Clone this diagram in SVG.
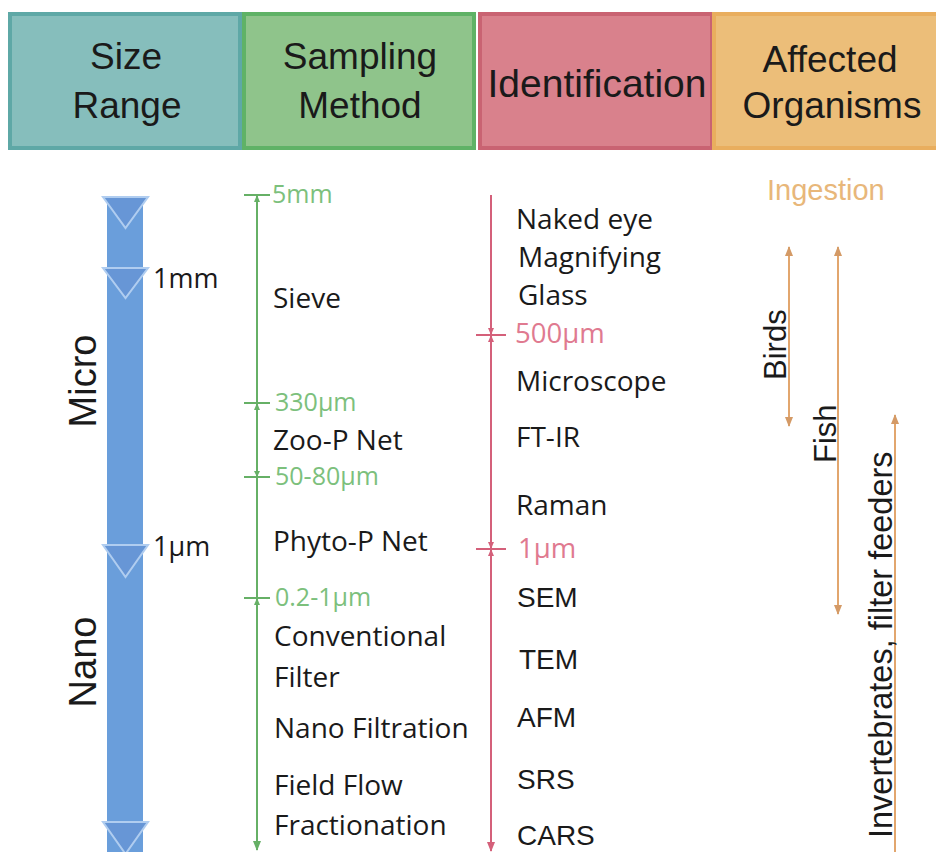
<svg xmlns="http://www.w3.org/2000/svg" width="936" height="852" viewBox="0 0 936 852">
<defs>
<style>
.hdr{font-family:"Liberation Sans",Arial,sans-serif;font-size:37px;fill:#1a1a1a;text-anchor:middle}
.lbl{font-family:"Open Sans",sans-serif;font-size:28px;fill:#1a1a1a}
.arl{font-family:"Liberation Sans",Arial,sans-serif;font-size:28px;fill:#1a1a1a}
.gtx{font-family:"Open Sans",sans-serif;font-size:25px;fill:#7cc07c}
.rtx{font-family:"Open Sans",sans-serif;font-size:27.5px;fill:#e07a90}
.org{font-family:"Liberation Sans",Arial,sans-serif;font-size:31px;fill:#1a1a1a}
.side{font-family:"Liberation Sans",Arial,sans-serif;font-size:38px;fill:#1a1a1a;text-anchor:middle}
.gl{stroke:#66b066;stroke-width:2;fill:none}
.rl{stroke:#d4607a;stroke-width:2;fill:none}
.ol{stroke:#e2a66e;stroke-width:2;fill:none}
.chev{fill:#6796d6;stroke:#b0cdf0;stroke-width:2}
</style>
<marker id="ag" viewBox="0 0 10 10" refX="9" refY="5" markerWidth="5" markerHeight="5" orient="auto-start-reverse"><path d="M0,1 L10,5 L0,9 z" fill="#66b066"/></marker>
<marker id="ar" viewBox="0 0 10 10" refX="9" refY="5" markerWidth="5" markerHeight="5" orient="auto-start-reverse"><path d="M0,1 L10,5 L0,9 z" fill="#d4607a"/></marker>
<marker id="ao" viewBox="0 0 10 10" refX="9" refY="5" markerWidth="5" markerHeight="5" orient="auto-start-reverse"><path d="M0,1 L10,5 L0,9 z" fill="#d49a66"/></marker>
</defs>
<rect width="936" height="852" fill="#ffffff"/>

<g id="hdr-size">
<rect x="10" y="14" width="230" height="134" fill="#86bebc" stroke="#5ea8a6" stroke-width="4"/>
<text class="hdr" x="126" y="69">Size</text>
<text class="hdr" x="127" y="118">Range</text>
</g>
<g id="hdr-sampling">
<rect x="244" y="14" width="230" height="134" fill="#8fc48b" stroke="#5fb266" stroke-width="4"/>
<text class="hdr" x="360" y="69">Sampling</text>
<text class="hdr" x="360" y="118">Method</text>
</g>
<g id="hdr-ident">
<rect x="480" y="14" width="232" height="134" fill="#d9818c" stroke="#c96372" stroke-width="4"/>
<text class="hdr" x="597" y="97" style="font-size:39px">Identification</text>
</g>
<g id="hdr-affected">
<rect x="714" y="14" width="226" height="134" fill="#ecbe79" stroke="#e9ae5e" stroke-width="4"/>
<text class="hdr" x="830" y="72">Affected</text>
<text class="hdr" x="832" y="118">Organisms</text>
</g>

<g id="size-range">
<rect x="107" y="197" width="36" height="655" fill="#6a9edb"/>
<polygon class="chev" points="103,197 148,197 125.5,228"/>
<polygon class="chev" points="103,268 148,268 125.5,298"/>
<polygon class="chev" points="103,545 148,545 125.5,577"/>
<polygon class="chev" points="103,822 148,822 125.5,854"/>
<text class="lbl" x="153" y="288" style="font-size:27px">1mm</text>
<text class="lbl" x="153" y="556" style="font-size:27px">1µm</text>
<text class="side" transform="translate(96,381) rotate(-90)">Micro</text>
<text class="side" transform="translate(96,662) rotate(-90)">Nano</text>
</g>

<g id="connectors">
<line class="gl" x1="257" y1="195" x2="257" y2="850" marker-end="url(#ag)"/>
<g class="gl">
<line x1="244" y1="195" x2="270" y2="195"/>
<line x1="244" y1="403" x2="270" y2="403"/>
<line x1="244" y1="477" x2="270" y2="477"/>
<line x1="244" y1="598" x2="270" y2="598"/>
</g>
<g fill="#66b066">
<path d="M257,195 l-3,7 h6 z"/>
<path d="M257,403 l-3,7 h6 z"/>
<path d="M257,477 l-3,-6 h6 z"/>
<path d="M257,598 l-3,7 h6 z"/>
</g>
<line class="rl" x1="491" y1="195" x2="491" y2="851" marker-end="url(#ar)"/>
<g class="rl">
<line x1="476" y1="335" x2="506" y2="335"/>
<line x1="476" y1="549" x2="506" y2="549"/>
</g>
<g fill="#d4607a">
<path d="M491,335 l-3,7 h6 z"/>
<path d="M491,335 l-3,-7 h6 z"/>
<path d="M491,549 l-3,7 h6 z"/>
<path d="M491,549 l-3,-7 h6 z"/>
</g>
<line class="ol" x1="789" y1="247" x2="789" y2="426" marker-start="url(#ao)" marker-end="url(#ao)"/>
<line class="ol" x1="838" y1="247" x2="838" y2="614" marker-start="url(#ao)" marker-end="url(#ao)"/>
<line class="ol" x1="895" y1="415" x2="895" y2="852" marker-start="url(#ao)"/>
</g>

<g id="sampling">
<text class="gtx" x="272" y="203">5mm</text>
<text class="lbl" x="273" y="308">Sieve</text>
<text class="gtx" x="275" y="411">330µm</text>
<text class="lbl" x="273" y="450">Zoo-P Net</text>
<text class="gtx" x="275" y="485">50-80µm</text>
<text class="lbl" x="273" y="551">Phyto-P Net</text>
<text class="gtx" x="275" y="606">0.2-1µm</text>
<text class="lbl" x="274" y="646">Conventional</text>
<text class="lbl" x="274" y="687">Filter</text>
<text class="lbl" x="274" y="738">Nano Filtration</text>
<text class="lbl" x="274" y="795">Field Flow</text>
<text class="lbl" x="274" y="835">Fractionation</text>
</g>

<g id="identification">
<text class="lbl" x="516" y="229">Naked eye</text>
<text class="lbl" x="518" y="267">Magnifying</text>
<text class="lbl" x="518" y="305">Glass</text>
<text class="rtx" x="515" y="343">500µm</text>
<text class="lbl" x="516" y="391">Microscope</text>
<text class="lbl" x="516" y="447">FT-IR</text>
<text class="lbl" x="516" y="515">Raman</text>
<text class="rtx" x="518" y="558">1µm</text>
<text class="arl" x="517" y="607">SEM</text>
<text class="arl" x="519" y="669">TEM</text>
<text class="arl" x="517" y="727">AFM</text>
<text class="arl" x="517" y="789">SRS</text>
<text class="arl" x="517" y="845">CARS</text>
</g>

<g id="organisms">
<text class="org" x="767" y="200" style="fill:#e8b77a;font-size:29px">Ingestion</text>
<text class="org" transform="translate(786,380) rotate(-90)">Birds</text>
<text class="org" transform="translate(836,463) rotate(-90)">Fish</text>
<text class="org" transform="translate(892,838) rotate(-90)" style="font-size:32.5px">Invertebrates, filter feeders</text>
</g>
</svg>
